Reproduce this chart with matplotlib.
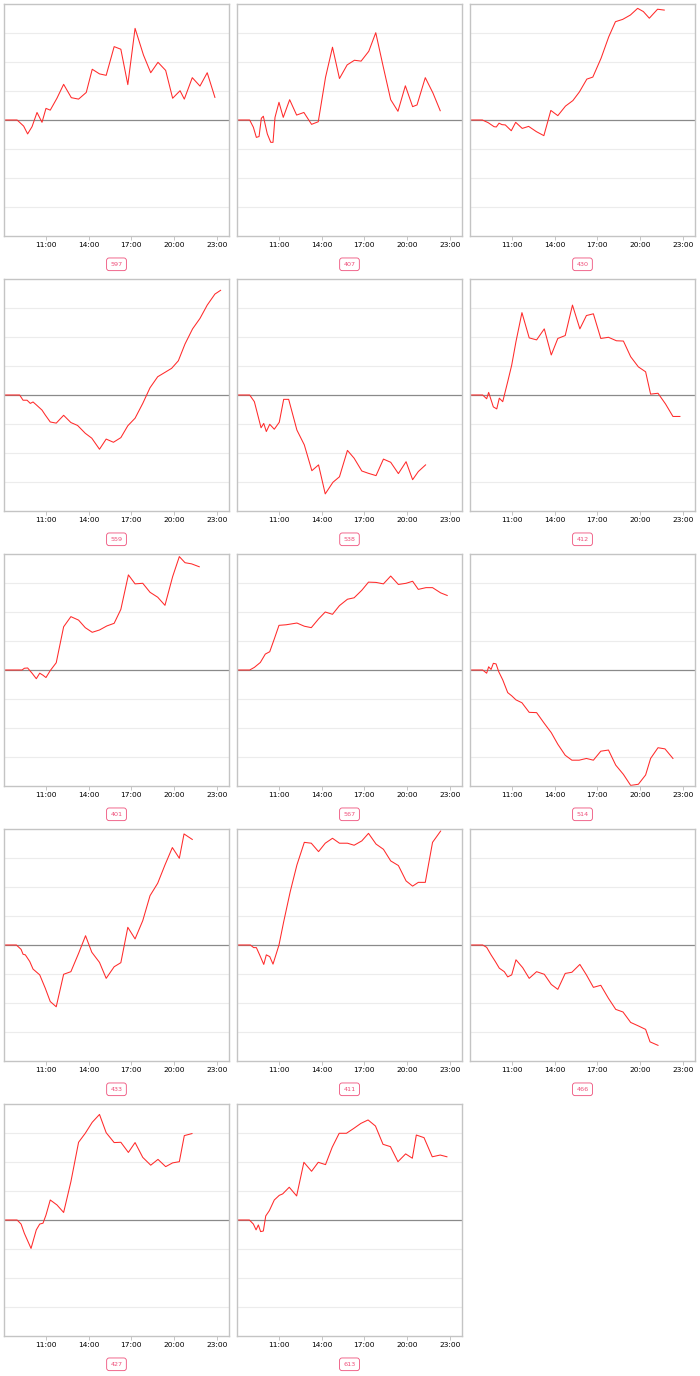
import matplotlib
matplotlib.use("Agg")
from matplotlib import pyplot as plt
from matplotlib.ticker import FixedLocator, FuncFormatter

LINE_RED = "#ff2a2a"
LABEL_PINK = "#ee4f7a"

# times in decimal hours, values in grid units (zero = start of day)
t_597 = [8.05, 8.97, 9.43, 9.71, 10.02, 10.37, 10.72, 11.0, 11.30, 11.77, 12.24, 12.78, 13.29, 13.83, 14.25, 14.76,
         15.23, 15.79, 16.26, 16.75, 17.26, 17.85, 18.36, 18.87, 19.41, 19.90, 20.42, 20.72, 21.28, 21.82, 22.33, 22.87]
v_597 = [0, 0, -0.21, -0.48, -0.23, 0.26, -0.08, 0.40, 0.34, 0.75, 1.23, 0.77, 0.72, 0.95, 1.75, 1.59,
         1.54, 2.53, 2.44, 1.22, 3.16, 2.24, 1.63, 1.99, 1.71, 0.75, 1.01, 0.72, 1.46, 1.17, 1.63, 0.78]

t_407 = [8.05, 8.94, 9.20, 9.41, 9.60, 9.76, 9.90, 10.18, 10.42, 10.58, 10.72, 11.0, 11.30, 11.75, 12.24, 12.75, 13.29,
         13.76, 14.27, 14.76, 15.25, 15.79, 16.30, 16.77, 17.31, 17.80, 18.31, 18.85, 19.36, 19.88, 20.39, 20.70,
         21.28, 21.82, 22.33]
v_407 = [0, 0, -0.25, -0.60, -0.57, 0.06, 0.13, -0.48, -0.77, -0.77, 0.09, 0.61, 0.09, 0.70, 0.17, 0.26, -0.15,
         -0.06, 1.47, 2.51, 1.43, 1.90, 2.06, 2.03, 2.37, 3.01, 1.87, 0.70, 0.30, 1.18, 0.46, 0.52,
         1.46, 0.93, 0.32]

t_430 = [8.05, 8.92, 9.32, 9.74, 9.90, 10.09, 10.30, 10.53, 10.95, 11.26, 11.72, 12.17, 12.71, 13.24, 13.73, 14.22,
         14.76, 15.28, 15.74, 16.26, 16.68, 17.26, 17.80, 18.27, 18.78, 19.32, 19.83, 20.23, 20.65, 21.23, 21.70]
v_430 = [0, 0, -0.09, -0.23, -0.24, -0.11, -0.16, -0.17, -0.37, -0.08, -0.29, -0.22, -0.40, -0.54, 0.33, 0.15,
         0.48, 0.67, 0.97, 1.41, 1.48, 2.13, 2.87, 3.39, 3.47, 3.62, 3.85, 3.74, 3.51, 3.82, 3.79]

t_559 = [8.05, 9.15, 9.39, 9.67, 9.90, 10.09, 10.32, 10.72, 10.95, 11.30, 11.72, 12.24, 12.75, 13.22, 13.76, 14.22,
         14.76, 15.23, 15.74, 16.26, 16.75, 17.26, 17.80, 18.31, 18.85, 19.36, 19.83, 20.30, 20.77, 21.30, 21.82,
         22.33, 22.87, 23.27]
v_559 = [0, 0, -0.18, -0.18, -0.29, -0.24, -0.34, -0.52, -0.69, -0.93, -0.97, -0.70, -0.95, -1.05, -1.32, -1.49,
         -1.87, -1.52, -1.63, -1.47, -1.06, -0.80, -0.29, 0.25, 0.63, 0.78, 0.92, 1.18, 1.76, 2.28, 2.64,
         3.10, 3.48, 3.61]

t_538 = [8.05, 8.94, 9.27, 9.74, 9.93, 10.11, 10.35, 10.67, 11.02, 11.33, 11.68, 12.26, 12.78, 13.31, 13.78, 14.25,
         14.79, 15.25, 15.81, 16.28, 16.82, 17.28, 17.82, 18.34, 18.85, 19.39, 19.93, 20.39, 20.79, 21.30]
v_538 = [0, 0, -0.23, -1.13, -0.98, -1.26, -1.01, -1.18, -0.94, -0.15, -0.15, -1.21, -1.72, -2.61, -2.41, -3.41,
         -3.01, -2.82, -1.91, -2.18, -2.62, -2.70, -2.78, -2.21, -2.32, -2.71, -2.30, -2.92, -2.64, -2.41]

t_412 = [8.05, 8.94, 9.22, 9.36, 9.69, 9.93, 10.11, 10.35, 10.70, 10.98, 11.28, 11.70, 12.21, 12.73, 13.27, 13.76,
         14.22, 14.74, 15.25, 15.77, 16.23, 16.72, 17.24, 17.78, 18.34, 18.83, 19.34, 19.88, 20.39, 20.74, 21.26,
         21.79, 22.31, 22.80]
v_412 = [0, 0, -0.13, 0.09, -0.41, -0.48, -0.11, -0.23, 0.46, 1.03, 1.84, 2.84, 1.97, 1.90, 2.28, 1.38,
         1.95, 2.05, 3.10, 2.28, 2.74, 2.80, 1.95, 1.99, 1.87, 1.86, 1.32, 0.97, 0.80, 0.03, 0.06,
         -0.31, -0.74, -0.74]

t_401 = [8.05, 9.32, 9.48, 9.71, 10.02, 10.32, 10.56, 10.79, 11.0, 11.30, 11.72, 12.24, 12.75, 13.29, 13.76, 14.25,
         14.76, 15.28, 15.79, 16.26, 16.79, 17.26, 17.80, 18.31, 18.85, 19.36, 19.90, 20.37, 20.77, 21.23, 21.77]
v_401 = [0, 0, 0.06, 0.07, -0.11, -0.30, -0.11, -0.18, -0.26, -0.02, 0.25, 1.49, 1.84, 1.72, 1.46, 1.30,
         1.38, 1.52, 1.61, 2.09, 3.28, 2.97, 2.99, 2.68, 2.51, 2.23, 3.22, 3.91, 3.70, 3.66, 3.56]

t_567 = [8.05, 8.94, 9.27, 9.69, 10.04, 10.35, 10.67, 11.0, 11.51, 12.26, 12.78, 13.27, 13.78, 14.25, 14.76, 15.25,
         15.81, 16.28, 16.82, 17.29, 17.82, 18.34, 18.85, 19.39, 19.93, 20.39, 20.79, 21.33, 21.79, 22.36, 22.82]
v_567 = [0, 0, 0.09, 0.26, 0.55, 0.63, 1.07, 1.54, 1.56, 1.62, 1.51, 1.46, 1.76, 2.00, 1.92, 2.22,
         2.44, 2.49, 2.75, 3.03, 3.02, 2.97, 3.24, 2.95, 2.99, 3.06, 2.78, 2.84, 2.84, 2.66, 2.57]

t_514 = [8.05, 8.94, 9.22, 9.36, 9.53, 9.69, 9.88, 10.07, 10.35, 10.70, 10.98, 11.28, 11.70, 12.21, 12.73, 13.27,
         13.76, 14.22, 14.74, 15.21, 15.72, 16.23, 16.72, 17.24, 17.78, 18.29, 18.83, 19.34, 19.88, 20.39, 20.74,
         21.26, 21.75, 22.31]
v_514 = [0, 0, -0.11, 0.11, 0.02, 0.23, 0.21, -0.06, -0.34, -0.78, -0.89, -1.03, -1.13, -1.46, -1.47, -1.84,
         -2.16, -2.56, -2.94, -3.11, -3.11, -3.05, -3.11, -2.80, -2.76, -3.28, -3.60, -3.98, -3.94, -3.62, -3.05,
         -2.68, -2.72, -3.05]

t_433 = [8.05, 8.92, 9.25, 9.39, 9.55, 9.86, 10.09, 10.56, 10.95, 11.30, 11.72, 12.24, 12.75, 13.29, 13.78, 14.22,
         14.76, 15.23, 15.79, 16.26, 16.75, 17.26, 17.80, 18.31, 18.85, 19.36, 19.88, 20.37, 20.70, 21.28]
v_433 = [0, 0, -0.15, -0.32, -0.34, -0.57, -0.83, -1.03, -1.49, -1.95, -2.13, -1.01, -0.92, -0.29, 0.32, -0.25,
         -0.60, -1.15, -0.75, -0.61, 0.61, 0.21, 0.84, 1.70, 2.13, 2.76, 3.36, 2.99, 3.83, 3.64]

t_411 = [8.05, 8.99, 9.22, 9.41, 9.64, 9.93, 10.11, 10.35, 10.58, 11.0, 11.33, 11.79, 12.26, 12.78, 13.27, 13.78,
         14.25, 14.76, 15.25, 15.81, 16.28, 16.82, 17.29, 17.82, 18.34, 18.85, 19.39, 19.93, 20.39, 20.79, 21.28,
         21.79, 22.36]
v_411 = [0, 0, -0.09, -0.09, -0.34, -0.67, -0.34, -0.40, -0.66, 0, 0.80, 1.84, 2.76, 3.54, 3.51, 3.22,
         3.51, 3.68, 3.51, 3.51, 3.44, 3.59, 3.85, 3.48, 3.30, 2.90, 2.74, 2.21, 2.03, 2.16, 2.16,
         3.54, 3.93]

t_466 = [8.05, 8.94, 9.22, 9.53, 9.83, 10.11, 10.46, 10.70, 10.98, 11.28, 11.75, 12.21, 12.73, 13.27, 13.76, 14.22,
         14.74, 15.21, 15.77, 16.23, 16.72, 17.24, 17.78, 18.29, 18.80, 19.34, 19.88, 20.39, 20.70, 21.26]
v_466 = [0, 0, -0.08, -0.34, -0.57, -0.80, -0.92, -1.10, -1.03, -0.51, -0.78, -1.15, -0.92, -1.01, -1.36, -1.53,
         -0.98, -0.94, -0.67, -1.03, -1.46, -1.39, -1.84, -2.22, -2.31, -2.67, -2.79, -2.91, -3.34, -3.46]

t_427 = [8.05, 8.97, 9.25, 9.48, 9.95, 10.32, 10.56, 10.79, 11.0, 11.30, 11.77, 12.24, 12.75, 13.29, 13.76, 14.25,
         14.76, 15.23, 15.79, 16.26, 16.79, 17.26, 17.80, 18.36, 18.87, 19.41, 19.90, 20.37, 20.72, 21.26]
v_427 = [0, 0, -0.14, -0.46, -0.98, -0.34, -0.14, -0.11, 0.17, 0.69, 0.52, 0.26, 1.32, 2.68, 2.99, 3.37,
         3.64, 3.01, 2.67, 2.68, 2.33, 2.67, 2.16, 1.89, 2.09, 1.84, 1.97, 2.01, 2.91, 2.98]

t_613 = [8.05, 8.92, 9.20, 9.39, 9.55, 9.71, 9.90, 10.07, 10.32, 10.67, 11.02, 11.26, 11.72, 12.24, 12.75, 13.29,
         13.76, 14.27, 14.74, 15.23, 15.74, 16.26, 16.75, 17.26, 17.78, 18.31, 18.83, 19.36, 19.90, 20.37, 20.65,
         21.19, 21.77, 22.33, 22.80]
v_613 = [0, 0, -0.14, -0.34, -0.17, -0.40, -0.38, 0.14, 0.32, 0.69, 0.85, 0.90, 1.13, 0.83, 1.99, 1.68,
         1.99, 1.91, 2.51, 2.99, 2.99, 3.16, 3.33, 3.45, 3.24, 2.61, 2.53, 2.01, 2.28, 2.13, 2.93,
         2.84, 2.18, 2.24, 2.18]

labels = ["597", "407", "430", "559", "538", "412", "401", "567", "514", "433", "411", "466", "427", "613"]
series = [(t_597, v_597), (t_407, v_407), (t_430, v_430), (t_559, v_559), (t_538, v_538), (t_412, v_412),
          (t_401, v_401), (t_567, v_567), (t_514, v_514), (t_433, v_433), (t_411, v_411), (t_466, v_466),
          (t_427, v_427), (t_613, v_613)]
tick_hours = [11, 14, 17, 20, 23]

W, H = 700, 1376
fig = plt.figure(figsize=(W / 100, H / 100), dpi=100)

col_left = [4, 237, 470]
row_top = [4, 279, 554, 829, 1104]
pw, ph = 225, 232

for i, (lab, (tt, vv)) in enumerate(zip(labels, series)):
    r, c = divmod(i, 3)
    x0, y0 = col_left[c], row_top[r]
    ax = fig.add_axes([x0 / W, 1 - (y0 + ph) / H, pw / W, ph / H])
    ax.set_xlim(8.05, 23.86)
    ax.set_ylim(-4, 4)
    for g in [-3, -2, -1, 1, 2, 3]:
        ax.axhline(g, color="#ececec", lw=0.8, zorder=0)
    ax.axhline(0, color="#8a8a8a", lw=0.9, zorder=1)
    ax.plot(tt, vv, color=LINE_RED, lw=0.75, zorder=2)

    ax.xaxis.set_major_locator(FixedLocator(tick_hours))
    ax.xaxis.set_major_formatter(FuncFormatter(lambda h, p: "%d:00" % h))
    ax.set_yticks([])
    ax.tick_params(axis="x", length=3, width=0.6, color="#bbbbbb", labelsize=5.4, pad=1.5, labelcolor="#000000")
    for s in ax.spines.values():
        s.set_color("#c4c4c4")
        s.set_linewidth(1.0)

    ax.text(0.5, -0.122, lab, transform=ax.transAxes, ha="center", va="center", fontsize=4.6,
            color=LABEL_PINK,
            bbox=dict(boxstyle="round,pad=0.6,rounding_size=0.4", fc="white", ec=LABEL_PINK, lw=0.6))

fig.savefig("out.png", dpi=100)
plt.close(fig)
